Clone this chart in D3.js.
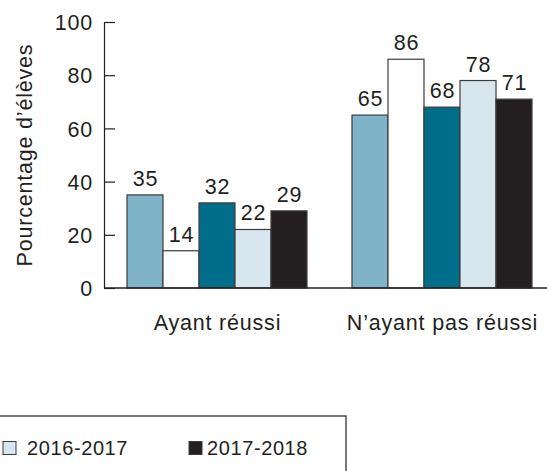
<!DOCTYPE html>
<html lang="fr">
<head>
<meta charset="utf-8">
<script src="https://cdn.jsdelivr.net/npm/d3@7/dist/d3.min.js"></script>
<style>
  html, body { margin: 0; padding: 0; background: #fff; }
  svg { display: block; }
  text { font-family: "Liberation Sans", Arial, Helvetica, sans-serif; fill: #231f20; letter-spacing: 0.8px; }
</style>
</head>
<body>
<svg id="chart" width="547" height="471"></svg>
<script>
// Pourcentage d'élèves selon le résultat, par année scolaire
const categories = ["Ayant réussi", "N’ayant pas réussi"];
const series = ["2013-2014", "2014-2015", "2015-2016", "2016-2017", "2017-2018"];
const valuesReussi = [35, 14, 32, 22, 29];
const valuesNonReussi = [65, 86, 68, 78, 71];
const seriesColors = ["#7fb3c8", "#ffffff", "#006e8a", "#d7e6ef", "#231f20"];
const yTicks = [0, 20, 40, 60, 80, 100];
const yTitle = "Pourcentage d’élèves";
const legendShown = ["2016-2017", "2017-2018"];

const values = [valuesReussi, valuesNonReussi];

const svg = d3.select("#chart");
const ink = "#231f20";
const fontSize = 21.5;

const y = d3.scaleLinear().domain([0, 100]).range([288, 22]);
const x0 = d3.scaleBand().domain(categories).range([104.5, 554.5])
  .paddingInner(0.2).paddingOuter(0.1);
const x1 = d3.scaleBand().domain(series).range([0, x0.bandwidth()]);
const color = d3.scaleOrdinal().domain(series).range(seriesColors);

// Y axis: ticks point inward, labels sit to the left
const yAxis = d3.axisLeft(y).tickValues(yTicks)
  .tickSizeInner(-11).tickSizeOuter(0).tickPadding(11)
  .tickFormat(d3.format("d"));
const gy = svg.append("g").attr("transform", "translate(104,0)").call(yAxis);
gy.select(".domain").attr("stroke", ink).attr("stroke-width", 1.2);
gy.selectAll(".tick line").attr("stroke", ink).attr("stroke-width", 1.2);
gy.selectAll(".tick text").attr("font-size", fontSize).attr("fill", ink)
  .attr("dy", "0.36em")
  .style("font-family", "'Liberation Sans', Arial, sans-serif");

// Bars
const groups = svg.append("g").selectAll("g")
  .data(categories)
  .join("g")
  .attr("transform", d => `translate(${x0(d)},0)`);

const bars = groups.selectAll("g")
  .data((c, i) => series.map((s, j) => ({ s, v: values[i][j] })))
  .join("g");

bars.append("rect")
  .attr("x", d => x1(d.s))
  .attr("y", d => y(d.v))
  .attr("width", x1.bandwidth())
  .attr("height", d => y(0) - y(d.v))
  .attr("fill", d => color(d.s))
  .attr("stroke", "#3c3c3c")
  .attr("stroke-width", 1.2);

bars.append("text")
  .attr("x", d => x1(d.s) + x1.bandwidth() / 2 + 0.5)
  .attr("y", d => y(d.v) - 9)
  .attr("text-anchor", "middle")
  .attr("font-size", fontSize)
  .text(d => d.v);

// Baseline across the plot
svg.append("line")
  .attr("x1", 104).attr("x2", 547)
  .attr("y1", y(0)).attr("y2", y(0))
  .attr("stroke", ink).attr("stroke-width", 1.4);

// Category labels
svg.append("g").selectAll("text")
  .data(categories)
  .join("text")
  .attr("x", d => x0(d) + x0.bandwidth() / 2 + 0.5)
  .attr("y", 330)
  .attr("text-anchor", "middle")
  .attr("font-size", fontSize)
  .text(d => d);

// Y axis title
svg.append("text")
  .attr("transform", `translate(32,${(y(0) + y(100)) / 2}) rotate(-90)`)
  .attr("text-anchor", "middle")
  .attr("font-size", fontSize)
  .text(yTitle);

// Legend (box continues below the page)
const legend = svg.append("g");
legend.append("rect")
  .attr("x", -1).attr("y", 416)
  .attr("width", 347).attr("height", 120)
  .attr("fill", "none").attr("stroke", ink).attr("stroke-width", 1.2);

const legendX = d3.scalePoint().domain(legendShown).range([3, 189]);
const items = legend.selectAll("g.item")
  .data(legendShown)
  .join("g")
  .attr("class", "item")
  .attr("transform", d => `translate(${legendX(d)},441.5)`);
items.append("rect")
  .attr("width", 13).attr("height", 13)
  .attr("fill", d => color(d))
  .attr("stroke", "#3c3c3c").attr("stroke-width", 1);
items.append("text")
  .attr("x", (d, i) => i === 0 ? 24 : 18)
  .attr("y", 13.5)
  .attr("font-size", 20)
  .style("letter-spacing", "0.6px")
  .text(d => d);
</script>
</body>
</html>
